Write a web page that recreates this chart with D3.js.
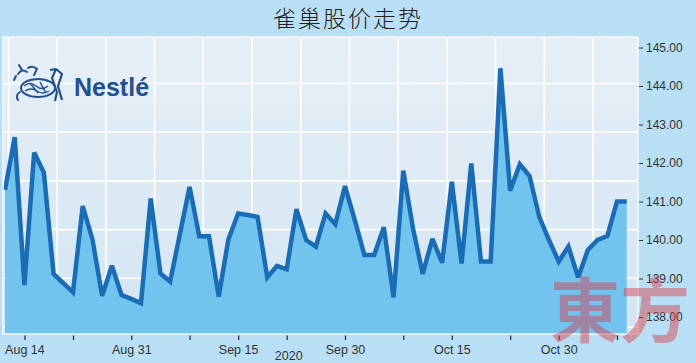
<!DOCTYPE html>
<html>
<head>
<meta charset="utf-8">
<script src="https://cdn.jsdelivr.net/npm/d3@7"></script>
<style>
  html, body { margin: 0; padding: 0; background: #b8dff3; }
  svg { display: block; }
</style>
</head>
<body>
<div id="chart"></div>
<script>
// closing prices, one per trading day (Aug 12 - Nov 10, 2020)
const prices = [
  141.30, 142.67, 138.83, 142.27, 141.75, 139.12, 138.88, 138.64, 140.88, 140.02,
  138.55, 139.33, 138.57, 138.47, 138.36, 141.08, 139.13, 138.92, 140.15, 141.38,
  140.10, 140.10, 138.53, 140.02, 140.69, 140.65, 140.60, 139.03, 139.33, 139.24,
  140.80, 140.00, 139.83, 140.69, 140.41, 141.40, 140.52, 139.61, 139.61, 140.33,
  138.51, 141.80, 140.30, 139.12, 140.03, 139.41, 141.51, 139.39, 141.99, 139.44,
  139.44, 144.46, 141.28, 141.97, 141.66, 140.60, 140.00, 139.44, 139.83, 139.03,
  139.74, 140.00, 140.10, 141.00, 141.00
]

// x ticks (trading-day index) and their labels
const xTickIdx    = [2, 7, 13, 19, 24, 29, 35, 41, 46, 52, 57, 63]
const xTickLabels = ['Aug 14', '', 'Aug 31', '', 'Sep 15', '', 'Sep 30', '', 'Oct 15', '', 'Oct 30', '']
const yearLabel   = '2020'
const yearIdx     = 29

const yTicks = [138, 139, 140, 141, 142, 143, 144, 145]

const title = '雀巢股价走势'

const W = 696, H = 363
const plot = { left: 3, top: 37, right: 638, bottom: 334 }

const xScale = d3.scaleLinear()
    .domain([0, prices.length - 1])
    .range([5, 626.7])

const yScale = d3.scaleLinear()
    .domain([138, 145])
    .range([317, 47.5])

const svg = d3.select('#chart')
    .append('svg')
    .attr('width', W)
    .attr('height', H)

const defs = svg.append('defs')
const grad = defs.append('linearGradient')
    .attr('id', 'plotBg')
    .attr('x1', 0).attr('y1', 0).attr('x2', 0).attr('y2', 1)
grad.append('stop').attr('offset', '0%').attr('stop-color', '#e6eff7')
grad.append('stop').attr('offset', '100%').attr('stop-color', '#d3e5f2')

defs.append('clipPath').attr('id', 'plotClip')
    .append('rect')
    .attr('x', plot.left).attr('y', plot.top)
    .attr('width', plot.right - plot.left)
    .attr('height', plot.bottom - plot.top)

// background
svg.append('rect')
    .attr('width', W).attr('height', H)
    .attr('fill', '#b8dff3')

// title
svg.append('text')
    .attr('x', 348).attr('y', 27)
    .attr('text-anchor', 'middle')
    .style('font-family', '"Noto Sans CJK SC", sans-serif')
    .style('font-weight', 300)
    .style('font-size', '23px')
    .style('letter-spacing', '2px')
    .style('fill', '#222')
    .text(title)

// plot panel
svg.append('rect')
    .attr('x', plot.left).attr('y', plot.top)
    .attr('width', plot.right - plot.left)
    .attr('height', plot.bottom - plot.top)
    .attr('fill', 'url(#plotBg)')

// decorative square grid (graph paper look)
const inner = svg.append('g').attr('clip-path', 'url(#plotClip)')
const cell = 48.7
inner.selectAll('.vgrid')
    .data(d3.range(8.5, plot.right, cell))
    .join('line')
    .attr('class', 'vgrid')
    .attr('x1', d => d).attr('x2', d => d)
    .attr('y1', plot.top).attr('y2', plot.bottom)
    .attr('stroke', '#fff')
    .attr('stroke-width', 1.6)
inner.selectAll('.hgrid')
    .data(d3.range(83.5 - cell, plot.bottom, cell))
    .join('line')
    .attr('class', 'hgrid')
    .attr('x1', plot.left).attr('x2', plot.right)
    .attr('y1', d => d).attr('y2', d => d)
    .attr('stroke', '#fff')
    .attr('stroke-width', 1.6)

// Nestle logo
const logo = inner.append('g').attr('fill', 'none').attr('stroke', '#21508e')
logo.append('ellipse')
    .attr('cx', 38).attr('cy', 88).attr('rx', 17).attr('ry', 9)
    .attr('stroke-width', 2)
logo.append('path')
    .attr('d', 'M24,86 q6,-5 12,0 q6,5 12,0 M25,91 q6,-4 12,0 q6,4 12,0 M30,83 q4,5 8,10 M40,82 q3,6 6,11')
    .attr('stroke-width', 1.5)
logo.append('path')
    .attr('d', 'M50,70 L56,69 L62,74 L58,86 L62,100 M56,69 L52,78 L57,92 L55,101')
    .attr('stroke-width', 2.2)
    .attr('stroke-linejoin', 'round')
logo.append('path')
    .attr('d', 'M18,74 q4,-6 9,-2 M22,70 l-3,-5 M16,76 l-2,4 M28,68 q5,-3 9,1 l-3,6 M20,92 q-5,3 -2,8')
    .attr('stroke-width', 2)
    .attr('stroke-linecap', 'round')
logo.append('text')
    .attr('x', 74).attr('y', 96)
    .attr('stroke', 'none')
    .attr('fill', '#21508e')
    .style('font-family', '"Liberation Sans", Arial, sans-serif')
    .style('font-weight', 'bold')
    .style('font-size', '25px')
    .text('Nestlé')

// area + line
const area = d3.area()
    .x((d, i) => xScale(i))
    .y0(plot.bottom)
    .y1(d => yScale(d))

const line = d3.line()
    .x((d, i) => xScale(i))
    .y(d => yScale(d))

inner.append('path')
    .datum(prices)
    .attr('d', area)
    .attr('fill', '#72c3ee')

inner.append('path')
    .datum(prices)
    .attr('d', line)
    .attr('fill', 'none')
    .attr('stroke', '#1a6db4')
    .attr('stroke-width', 4.5)
    .attr('stroke-linejoin', 'miter')
    .attr('stroke-miterlimit', 3)

// panel border
svg.append('rect')
    .attr('x', plot.left).attr('y', plot.top)
    .attr('width', plot.right - plot.left)
    .attr('height', plot.bottom - plot.top)
    .attr('fill', 'none')
    .attr('stroke', '#f4f9fc')
    .attr('stroke-width', 1.5)

// right y axis
svg.append('g')
    .attr('transform', `translate(${plot.right + 1},0)`)
    .call(d3.axisRight(yScale)
        .tickValues(yTicks)
        .tickFormat(d3.format('.2f'))
        .tickSize(4)
        .tickPadding(3))
    .call(g => g.select('.domain').remove())
    .call(g => g.selectAll('.tick line').attr('stroke', '#333'))
    .selectAll('text')
        .style('font-family', '"Liberation Sans", Arial, sans-serif')
        .style('font-size', '12px')
        .style('fill', '#333')

// bottom x axis
const xAxis = svg.append('g')
    .attr('transform', `translate(0,${plot.bottom + 1.5})`)
    .call(d3.axisBottom(xScale)
        .tickValues(xTickIdx)
        .tickFormat((d, i) => xTickLabels[i])
        .tickSize(4.5)
        .tickPadding(5))
    .call(g => g.select('.domain').remove())
    .call(g => g.selectAll('.tick line').attr('stroke', '#333').attr('stroke-width', 1.3))
xAxis.selectAll('text')
    .style('font-family', '"Liberation Sans", Arial, sans-serif')
    .style('font-size', '12.5px')
    .style('fill', '#333')

svg.append('text')
    .attr('x', xScale(yearIdx) + 2).attr('y', 360)
    .attr('text-anchor', 'middle')
    .style('font-family', '"Liberation Sans", Arial, sans-serif')
    .style('font-size', '12.5px')
    .style('fill', '#333')
    .text(yearLabel)

// newspaper watermark (semi-transparent, sits over the corner like the original)
svg.append('text')
    .attr('x', 690).attr('y', 337)
    .attr('text-anchor', 'end')
    .style('font-family', '"Noto Sans CJK TC", sans-serif')
    .style('font-weight', 700)
    .style('font-size', '70px')
    .style('pointer-events', 'none')
    .style('fill', 'rgba(214, 58, 72, 0.45)')
    .text('東方')
</script>
</body>
</html>
